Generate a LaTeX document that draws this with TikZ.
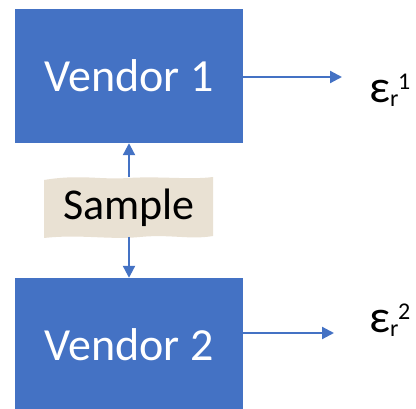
\documentclass[tikz,border=0pt]{standalone}
\usepackage{fontspec}
\setmainfont{Carlito}
\usetikzlibrary{arrows.meta}
\definecolor{vblue}{HTML}{4472C4}
\definecolor{paper}{HTML}{E9E1D3}
\tikzset{
  vendor/.style={fill=vblue, draw=none, minimum width=228pt, minimum height=134pt,
    inner sep=0pt, text=white, font=\fontsize{46}{50}\selectfont},
  link/.style={draw=vblue, line width=2.2pt, -{Triangle[length=12pt,width=12pt]}},
  errlabel/.style={font=\fontsize{46}{50}\selectfont, inner sep=0pt, anchor=west}
}
\newcommand{\errsym}[1]{ε\textsubscript{\fontsize{24}{26}\selectfont r}\hspace{-1pt}\textsuperscript{\fontsize{24}{26}\selectfont\raisebox{4pt}{#1}}}
\begin{document}
\begin{tikzpicture}[x=1pt,y=-1pt]
\useasboundingbox (0,0) rectangle (416,409);
% vendor boxes (the lower one runs past the bottom edge)
\begin{scope}
\clip (0,0) rectangle (416,409);
\node[vendor] (v1) at (129,76) {Vendor 1};
\node[vendor] (v2) at (129,345) {Vendor 2};
\end{scope}
% torn-paper sample tag
\fill[paper] (44,180) .. controls (80,174) and (100,180) .. (128,178)
  .. controls (160,176) and (190,180) .. (213,177)
  -- (213,236) .. controls (190,240) and (170,234) .. (140,237)
  .. controls (110,240) and (80,234) .. (44,238) -- cycle;
\node[inner sep=0pt, font=\fontsize{44}{48}\selectfont] (s) at (129,208) {Sample};
\coordinate (stop) at (129,177);
\coordinate (sbot) at (129,237);
% connectors
\draw[link] (stop) -- (v1.south -| stop);
\draw[link] (sbot) -- (v2.north -| sbot);
\coordinate (e1) at (342,77);
\coordinate (e2) at (334,333);
\draw[link] (v1.east |- e1) -- (e1);
\draw[link] (v2.east |- e2) -- (e2);
\node[errlabel] (l1) at (369,90) {\errsym{1}};
\node[errlabel] (l2) at (369,320) {\errsym{2}};
\end{tikzpicture}
\end{document}
